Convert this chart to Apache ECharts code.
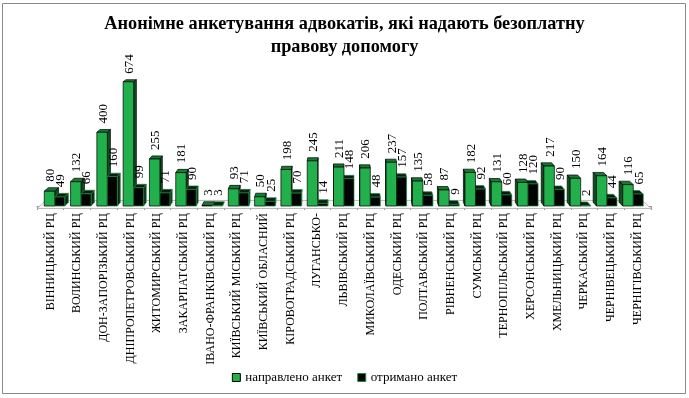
<!DOCTYPE html>
<html>
<head>
<meta charset="utf-8">
<script src="https://cdn.jsdelivr.net/npm/echarts@6/dist/echarts.min.js"></script>
<style>
html,body{margin:0;padding:0;background:#fff;}
#main{width:689px;height:398px;}
</style>
</head>
<body>
<div id="main"></div>
<script>
const categories = [
  'ВІННИЦЬКИЙ РЦ','ВОЛИНСЬКИЙ РЦ','ДОН-ЗАПОРІЗЬКИЙ РЦ','ДНІПРОПЕТРОВСЬКИЙ РЦ',
  'ЖИТОМИРСЬКИЙ РЦ','ЗАКАРПАТСЬКИЙ РЦ','ІВАНО-ФРАНКІВСЬКИЙ РЦ','КИЇВСЬКИЙ МІСЬКИЙ РЦ',
  'КИЇВСЬКИЙ ОБЛАСНИЙ','КІРОВОГРАДСЬКИЙ РЦ','ЛУГАНСЬКО-','ЛЬВІВСЬКИЙ РЦ',
  'МИКОЛАЇВСЬКИЙ РЦ','ОДЕСЬКИЙ РЦ','ПОЛТАВСЬКИЙ РЦ','РІВНЕНСЬКИЙ РЦ',
  'СУМСЬКИЙ РЦ','ТЕРНОПІЛЬСЬКИЙ РЦ','ХЕРСОНСЬКИЙ РЦ','ХМЕЛЬНИЦЬКИЙ РЦ',
  'ЧЕРКАСЬКИЙ РЦ','ЧЕРНІВЕЦЬКИЙ РЦ','ЧЕРНІГІВСЬКИЙ РЦ'
];
const sentValues = [80,132,400,674,255,181,3,93,50,198,245,211,206,237,135,87,182,131,128,217,150,164,116];
const receivedValues = [49,66,160,99,71,90,3,71,25,70,14,148,48,157,58,9,92,60,120,90,2,44,65];
const seriesNames = ['направлено анкет','отримано анкет'];
const titleText = 'Анонімне анкетування адвокатів, які надають безоплатну\nправову допомогу';

const styles = [
  {front:'#21b04b', top:'#167a35', side:'#0d4f23', stroke:'#000000'},
  {front:'#030303', top:'#0b1f10', side:'#0b2a14', stroke:'#1c8a3e'}
];

function makeRender(s){
  return function(params, api){
    const cs = params.coordSys;
    const idx = api.value(0), val = api.value(1);
    const base = api.coord([idx,0]);
    const topP = api.coord([idx,val]);
    const VPX = cs.x + cs.width/2, VPY = -80, T = 0.013, SHIFT = 0.015;
    const c = base[0];
    const g = c + (VPX - c)*SHIFT;
    const x0 = s===0 ? g-10.5 : g;
    const x1 = s===0 ? g : g+10;
    const yb = base[1], yt = topP[1];
    const back = (x,y)=>[x+(VPX-x)*T, y+(VPY-y)*T];
    const st = styles[s];
    const leftHalf = c < VPX;
    const zb = leftHalf ? (s===0?10:20) : (s===0?20:10);
    const children = [];
    if (s===0 && params.dataIndex===0){
      const T2 = 0.028, fy = yb+2.5;
      const fl = [cs.x, fy], fr = [cs.x+cs.width, fy];
      const bk = p=>[p[0]+(VPX-p[0])*T2, p[1]+(VPY-p[1])*T2];
      children.push({type:'polygon', z2:1, shape:{points:[fl,fr,bk(fr),bk(fl)]},
        style:{fill:'#f6f6f6', stroke:'#a8a8a8', lineWidth:0.8}});
    }
    let side;
    if (leftHalf){
      side = [[x1,yt],[x1,yb],back(x1,yb),back(x1,yt)];
    } else {
      side = [[x0,yt],[x0,yb],back(x0,yb),back(x0,yt)];
    }
    children.push({type:'polygon', z2:zb, shape:{points:side},
      style:{fill:st.side, stroke:st.stroke, lineWidth:0.7}});
    children.push({type:'polygon', z2:zb+1, shape:{points:[[x0,yt],[x1,yt],back(x1,yt),back(x0,yt)]},
      style:{fill:st.top, stroke:st.stroke, lineWidth:0.7}});
    children.push({type:'rect', z2:zb+2, shape:{x:x0,y:yt,width:x1-x0,height:yb-yt},
      style:{fill:st.front, stroke:st.stroke, lineWidth:0.7}});
    const bt = back((x0+x1)/2, yt);
    children.push({type:'text', z2:100, x:(x0+x1)/2+1, y:bt[1]-6, rotation:Math.PI/2,
      style:{text:String(val), font:'13px "Liberation Serif"', fill:'#000', align:'left', verticalAlign:'middle'}});
    return {type:'group', children};
  };
}

const chart = echarts.init(document.getElementById('main'), null, {renderer:'canvas'});
chart.setOption({
  animation:false,
  backgroundColor:'#fff',
  title:{text:titleText, left:'center', top:8,
    textStyle:{fontFamily:'Liberation Serif', fontWeight:'bold', fontSize:18.3, lineHeight:23, color:'#000'}},
  graphic:[{type:'rect', shape:{x:2.5,y:3.5,width:683,height:390}, style:{fill:'none', stroke:'#8a8a8a', lineWidth:1}, silent:true}],
  legend:{bottom:9, left:'center', itemWidth:8, itemHeight:8, itemGap:15,
    textStyle:{fontFamily:'Liberation Serif', fontSize:13, color:'#000'},
    data:[
      {name:seriesNames[0], icon:'rect', itemStyle:{color:styles[0].front, borderColor:'#000', borderWidth:1}},
      {name:seriesNames[1], icon:'rect', itemStyle:{color:'#000', borderColor:'#1c8a3e', borderWidth:1}}
    ]},
  grid:{left:37, right:38, top:77, bottom:192, containLabel:false},
  xAxis:{type:'category', data:categories, offset:3,
    axisLine:{lineStyle:{color:'#999', width:1}},
    axisTick:{show:true, interval:0, length:4, lineStyle:{color:'#999'}},
    axisLabel:{rotate:90, interval:0, fontFamily:'Liberation Serif', fontSize:12, color:'#000', margin:4}},
  yAxis:{type:'value', min:0, max:700, show:false, splitLine:{show:false}},
  series:[
    {name:seriesNames[0], type:'custom', renderItem:makeRender(0), itemStyle:{color:styles[0].front},
      data:sentValues.map((v,i)=>[i,v])},
    {name:seriesNames[1], type:'custom', renderItem:makeRender(1), itemStyle:{color:'#000'},
      data:receivedValues.map((v,i)=>[i,v])}
  ]
});
</script>
</body>
</html>
